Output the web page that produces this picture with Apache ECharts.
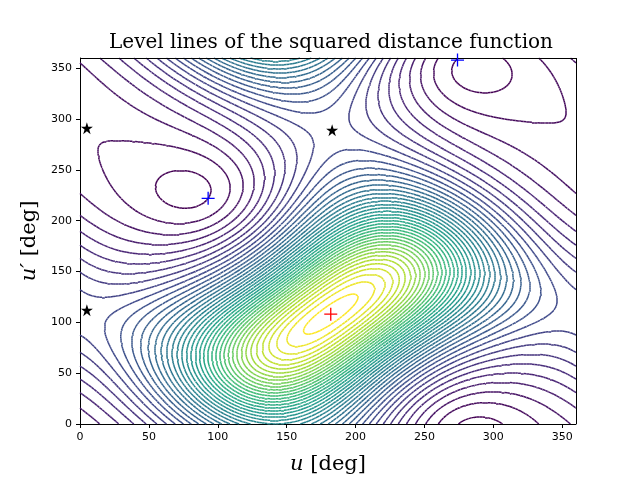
<!DOCTYPE html>
<html><head><meta charset="utf-8">
<script src="https://cdn.jsdelivr.net/npm/echarts@6/dist/echarts.min.js"></script>
<style>html,body{margin:0;background:#fff}#c{width:640px;height:480px}</style>
</head><body><div id="c"></div>
<script>
// Critical points
const maximumPoint = [182, 108];               // red cross
const minimaPoints = [[93, 222], [274, 358]];  // blue crosses
const saddlePoints = [[5, 112], [5, 291], [183, 289]]; // black stars
// Model of the level function: main bump (diagonal elongated) and two shallow wells
const bumpShape = [0.75, 0.66];   // spread, diagonal coupling
const wellCentres = [[96, 220], [272, 358]];
const wellDepth = [0.07, 0.07];
const wellSharpness = 2.2;
const levelCount = 42;

const R = Math.PI / 180;
function g(u, v) {
  const du = (u - maximumPoint[0]) * R, dv = (v - maximumPoint[1]) * R;
  let val = Math.exp(bumpShape[0] * (Math.cos(du) + Math.cos(dv) - 2) + bumpShape[1] * Math.sin(du) * Math.sin(dv));
  wellCentres.forEach((m, k) => {
    val -= wellDepth[k] * Math.exp(wellSharpness * (Math.cos((u - m[0]) * R) + Math.cos((v - m[1]) * R) - 2));
  });
  return val;
}
const step = 2;
const n = 360 / step + 1;
const grid = [];
let gmin = Infinity, gmax = -Infinity;
for (let i = 0; i < n; i++) { grid.push([]); for (let j = 0; j < n; j++) { const val = g(i * step, j * step); grid[i].push(val); gmin = Math.min(gmin, val); gmax = Math.max(gmax, val); } }
const levels = [];
for (let k = 0; k < levelCount; k++) levels.push(gmin + (gmax - gmin) * (k + 0.5) / levelCount);

const vir = ['#440154','#482878','#3e4989','#31688e','#26828e','#1f9e89','#35b779','#6ece58','#b5de2b','#fde725'];
function hex(c){return [1,3,5].map(i=>parseInt(c.substr(i,2),16));}
function viridis(t){const p=t*(vir.length-1),i=Math.min(vir.length-2,Math.floor(p)),f=p-i;const a=hex(vir[i]),b=hex(vir[i+1]);return 'rgb('+a.map((x,k)=>Math.round(x+(b[k]-x)*f)).join(',')+')';}

function contour(L) {
  const segs = [];
  for (let i = 0; i < n - 1; i++) for (let j = 0; j < n - 1; j++) {
    const x0 = i * step, y0 = j * step, x1 = x0 + step, y1 = y0 + step;
    const a = grid[i][j], b = grid[i + 1][j], c = grid[i + 1][j + 1], d = grid[i][j + 1];
    const pts = [];
    function e(p, q, P, Q) { if ((p - L) * (q - L) < 0) { const t = (L - p) / (q - p); pts.push([P[0] + (Q[0] - P[0]) * t, P[1] + (Q[1] - P[1]) * t]); } }
    e(a, b, [x0, y0], [x1, y0]); e(b, c, [x1, y0], [x1, y1]); e(c, d, [x1, y1], [x0, y1]); e(d, a, [x0, y1], [x0, y0]);
    if (pts.length === 2) segs.push({ coords: [pts[0], pts[1]] });
    else if (pts.length === 4) { segs.push({ coords: [pts[0], pts[1]] }); segs.push({ coords: [pts[2], pts[3]] }); }
  }
  return segs;
}
const series = levels.map((L, k) => ({
  type: 'lines', coordinateSystem: 'cartesian2d', polyline: false, silent: true,
  lineStyle: { color: viridis(k / (levelCount - 1)), width: 1.5, opacity: 1 },
  data: contour(L)
}));
const plus = 'path://M-1,-0.1L1,-0.1L1,0.1L-1,0.1Z M-0.1,-1L0.1,-1L0.1,1L-0.1,1Z';
series.push({ type: 'scatter', symbol: plus, symbolSize: 13, itemStyle: { color: '#ff0000', opacity: 1 }, data: [maximumPoint], z: 10 });
series.push({ type: 'scatter', symbol: plus, symbolSize: 13, itemStyle: { color: '#0000ff', opacity: 1 }, data: minimaPoints, z: 10 });
series.push({ type: 'scatter', symbol: 'path://M0,-1L0.2245,-0.309L0.951,-0.309L0.363,0.118L0.588,0.809L0,0.382L-0.588,0.809L-0.363,0.118L-0.951,-0.309L-0.2245,-0.309Z', symbolSize: 12, itemStyle: { color: '#000', opacity: 1 }, data: saddlePoints, z: 10 });

const serif = 'DejaVu Serif';
const axisCommon = {
  type: 'value', min: 0, max: 360, interval: 50,
  axisLine: { show: true, onZero: false, lineStyle: { color: '#000', width: 1 } },
  axisTick: { show: true, length: 4, lineStyle: { color: '#000' } },
  axisLabel: { color: '#000', fontSize: 11, fontFamily: 'DejaVu Sans', showMaxLabel: false },
  splitLine: { show: false }
};
const chart = echarts.init(document.getElementById('c'), null, { renderer: 'canvas' });
chart.setOption({
  animation: false,
  title: { text: 'Level lines of the squared distance function', left: 326, top: 28, textAlign: 'center',
    textStyle: { fontFamily: serif, fontSize: 20, fontWeight: 'normal', color: '#000' } },
  grid: { left: 80, right: 64, top: 58, bottom: 53 },
  xAxis: Object.assign({}, axisCommon, {
    name: '{i|u} [deg]', nameLocation: 'middle', nameGap: 30,
    nameTextStyle: { fontFamily: serif, fontSize: 21, color: '#000', rich: { i: { fontStyle: 'italic', fontFamily: serif, fontSize: 21 } } }
  }),
  yAxis: Object.assign({}, axisCommon, {
    name: "{i|u′} [deg]", nameLocation: 'middle', nameGap: 38,
    nameTextStyle: { fontFamily: serif, fontSize: 21, color: '#000', rich: { i: { fontStyle: 'italic', fontFamily: serif, fontSize: 21 } } }
  }),
  series: series.concat([{ type: 'line', data: [], markLine: { silent: true, symbol: 'none', label: { show: false },
    lineStyle: { color: '#000', type: 'solid', width: 1 }, data: [{ xAxis: 360 }, { yAxis: 360 }] } }])
});
</script></body></html>
